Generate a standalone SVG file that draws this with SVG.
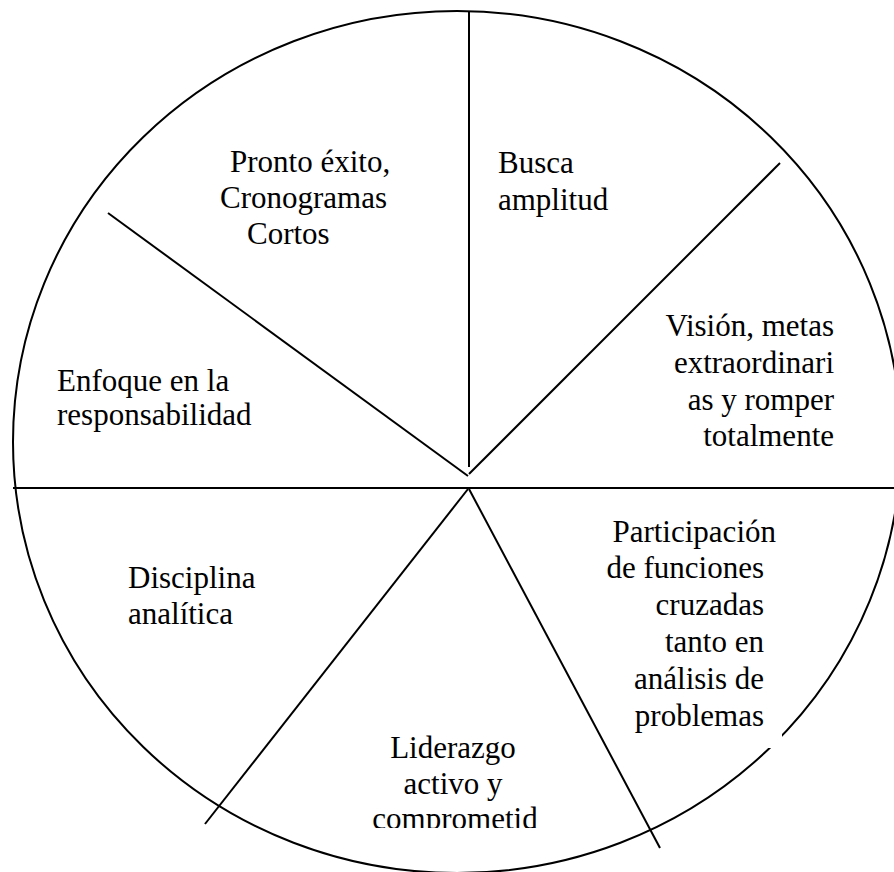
<svg xmlns="http://www.w3.org/2000/svg" width="894" height="872" viewBox="0 0 894 872">
  <style>
    .ln { stroke: #000; stroke-width: 2; fill: none; }
    .t { font-family: "Liberation Serif", "Times New Roman", serif; font-size: 31px; fill: #000; }
    .box { fill: #fff; stroke: none; }
  </style>
  <defs>
    <clipPath id="clipBottom">
      <rect x="330" y="700" width="260" height="128"/>
    </clipPath>
  </defs>

  <rect width="894" height="872" fill="#fff"/>

  <!-- outer wheel -->
  <g id="wheel">
    <ellipse class="ln" cx="457" cy="442" rx="444" ry="431"/>
  </g>

  <!-- dividing spokes -->
  <g id="connectors">
    <line class="ln" x1="469" y1="12" x2="469" y2="467"/>
    <line class="ln" x1="108" y1="213" x2="468" y2="476"/>
    <line class="ln" x1="469" y1="474" x2="780" y2="163"/>
    <line class="ln" x1="13" y1="488" x2="894" y2="488"/>
    <line class="ln" x1="468" y1="489" x2="205" y2="824"/>
    <line class="ln" x1="469" y1="489" x2="660" y2="848"/>
  </g>

  <g id="seg-pronto">
    <text class="t" x="230" y="172">Pronto éxito,</text>
    <text class="t" x="220" y="208">Cronogramas</text>
    <text class="t" x="247" y="244">Cortos</text>
  </g>

  <g id="seg-busca">
    <text class="t" x="498" y="173">Busca</text>
    <text class="t" x="498" y="210">amplitud</text>
  </g>

  <g id="seg-vision" text-anchor="end">
    <text class="t" x="834" y="336">Visión, metas</text>
    <text class="t" x="834" y="373">extraordinari</text>
    <text class="t" x="834" y="410">as y romper</text>
    <text class="t" x="834" y="446">totalmente</text>
  </g>

  <g id="seg-enfoque">
    <text class="t" x="57" y="391">Enfoque en la</text>
    <text class="t" x="57" y="425">responsabilidad</text>
  </g>

  <g id="seg-disciplina">
    <text class="t" x="128" y="588">Disciplina</text>
    <text class="t" x="128" y="624">analítica</text>
  </g>

  <g id="seg-participacion">
    <rect class="box" x="620" y="515" width="162" height="233"/>
    <text class="t" x="776" y="542" text-anchor="end">Participación</text>
    <g text-anchor="end">
      <text class="t" x="764" y="578">de funciones</text>
      <text class="t" x="764" y="615">cruzadas</text>
      <text class="t" x="764" y="652">tanto en</text>
      <text class="t" x="764" y="689">análisis de</text>
      <text class="t" x="764" y="726">problemas</text>
    </g>
  </g>

  <g id="seg-liderazgo" text-anchor="middle" clip-path="url(#clipBottom)">
    <text class="t" x="453" y="758">Liderazgo</text>
    <text class="t" x="453" y="794">activo y</text>
    <text class="t" x="455" y="829">comprometid</text>
  </g>
</svg>
